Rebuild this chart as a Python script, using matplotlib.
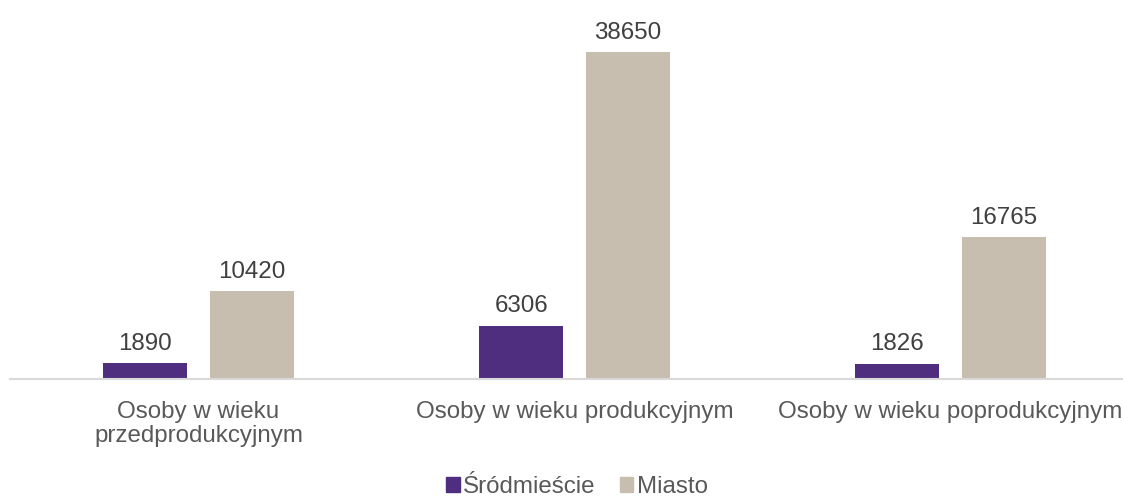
import matplotlib
matplotlib.use("Agg")
import matplotlib.pyplot as plt
import numpy as np
from matplotlib.patches import Patch

categories = ["Osoby w wieku\nprzedprodukcyjnym", "Osoby w wieku produkcyjnym", "Osoby w wieku poprodukcyjnym"]
series_names = ["Śródmieście", "Miasto"]
srodmiescie = [1890, 6306, 1826]
miasto = [10420, 38650, 16765]

plt.rcParams['font.family'] = ['Liberation Sans', 'DejaVu Sans']
W, H = 1123, 498
fig = plt.figure(figsize=(W/100, H/100), dpi=100)
ax = fig.add_axes([10/W, 1 - 379/H, 1 - 10/W, 379/H])

purple = "#4F2D7F"
tan = "#C8BEB0"
txt = "#404040"
fs = 17.4
x = np.arange(len(categories))
bw = 0.2234
off = 0.1415
b1 = ax.bar(x - off, srodmiescie, bw, color=purple)
b2 = ax.bar(x + off, miasto, bw, color=tan)
for bars, vals in ((b1, srodmiescie), (b2, miasto)):
    for r, v in zip(bars, vals):
        ax.annotate(str(v), (r.get_x() + r.get_width()/2, v), xytext=(0, 6),
                    textcoords="offset points", ha="center", va="bottom",
                    fontsize=fs, color=txt)

ax.set_xlim(-0.5013, 2.459)
ax.set_ylim(0, 44795)
ax.set_yticks([])
ax.set_xticks(x)
ax.set_xticklabels(categories, fontsize=fs, color="#595959", linespacing=1.12)
ax.tick_params(axis='x', length=0, pad=16)
for s in ("top", "right", "left"):
    ax.spines[s].set_visible(False)
ax.spines["bottom"].set_color("#D9D9D9")
ax.spines["bottom"].set_linewidth(1.5)

handles = [Patch(color=purple), Patch(color=tan)]
leg = fig.legend(handles, series_names, loc="center", bbox_to_anchor=(577/W, 1 - 487/H),
                 ncol=2, frameon=False, fontsize=fs, handlelength=0.55, handleheight=0.55,
                 handletextpad=0.15, columnspacing=1.0, labelcolor="#595959")
fig.savefig("out.png", dpi=100)
